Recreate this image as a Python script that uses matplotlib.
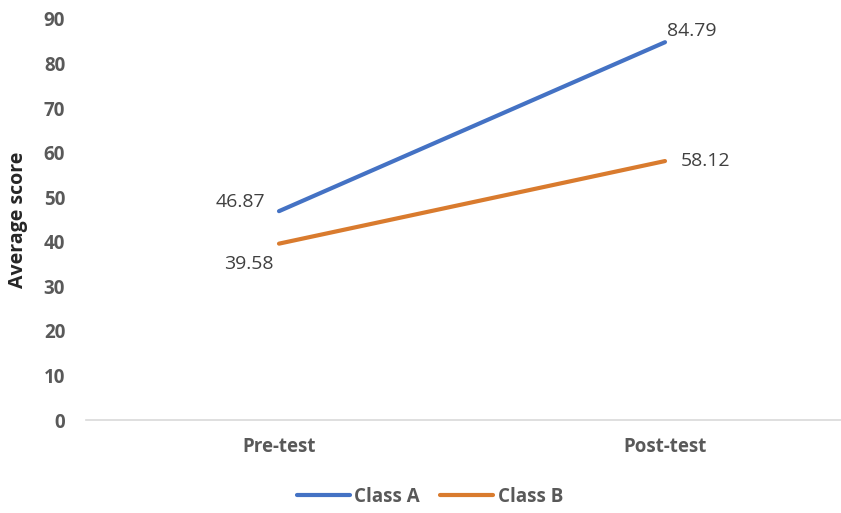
import numpy as np
import matplotlib.pyplot as plt

categories = ["Pre-test", "Post-test"]
class_a = [46.87, 84.79]
class_b = [39.58, 58.12]
y_ticks = [0, 10, 20, 30, 40, 50, 60, 70, 80, 90]

plt.rcParams['font.family'] = ['Open Sans', 'DejaVu Sans']

fig = plt.figure(figsize=(8.41, 5.13), dpi=100)
ax = fig.add_axes([86/841, 93/513, 772/841, 401/513])

x = np.arange(len(categories))
blue = '#4472C4'
orange = '#D97B2E'
ax.plot(x, class_a, color=blue, lw=3, solid_capstyle='round', label='Class A')
ax.plot(x, class_b, color=orange, lw=3, solid_capstyle='round', label='Class B')

ax.set_xlim(-0.5, 1.5)
ax.set_ylim(0, 90)
ax.set_yticks(y_ticks)
ax.set_xticks(x)
ax.set_xticklabels(categories)

for s in ['top', 'right', 'left']:
    ax.spines[s].set_visible(False)
ax.spines['bottom'].set_color('#D9D9D9')
ax.spines['bottom'].set_linewidth(1.2)
ax.tick_params(length=0)
ax.tick_params(axis='y', pad=15)
ax.tick_params(axis='x', pad=12)
for lab in ax.get_yticklabels() + ax.get_xticklabels():
    lab.set_fontweight('bold')
    lab.set_color('#595959')
    lab.set_fontsize(13.5)

ax.set_ylabel('Average score', fontsize=14, fontweight='bold', color='#262626')
ax.yaxis.set_label_coords(-0.075, 0.5)

txt = dict(fontsize=14, color='#404040')
ax.annotate(f"{class_a[0]:.2f}", (x[0], class_a[0]), xytext=(-10, 6.5), textcoords='offset points',
            ha='right', va='center', **txt)
ax.annotate(f"{class_b[0]:.2f}", (x[0], class_b[0]), xytext=(-21.5, -15), textcoords='offset points',
            ha='center', va='center', **txt)
ax.annotate(f"{class_a[1]:.2f}", (x[1], class_a[1]), xytext=(1.5, 8), textcoords='offset points',
            ha='left', va='center', **txt)
ax.annotate(f"{class_b[1]:.2f}", (x[1], class_b[1]), xytext=(11.5, 0), textcoords='offset points',
            ha='left', va='center', **txt)

leg = fig.legend(loc='center', bbox_to_anchor=(430/841, 1 - 497/513), ncol=2, frameon=False,
                 handlelength=2.8, columnspacing=1.1, handletextpad=0.25,
                 prop={'weight': 'bold', 'size': 13.5})
for t in leg.get_texts():
    t.set_color('#595959')

fig.savefig('out.png', dpi=100)
